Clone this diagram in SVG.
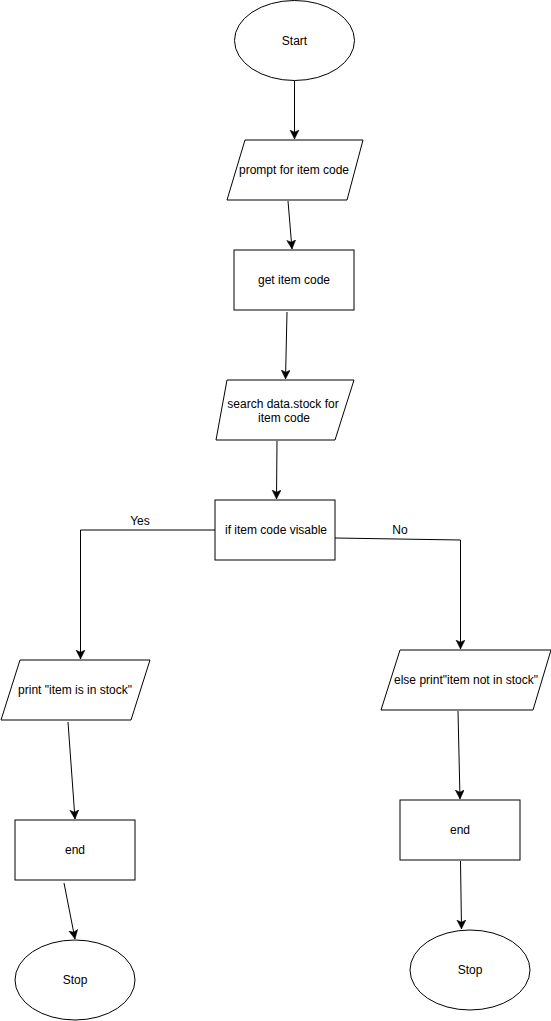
<svg xmlns="http://www.w3.org/2000/svg" width="551" height="1021" viewBox="0 0 551 1021">
<style>
.s{fill:#fff;stroke:#000;stroke-width:1}
.t{font-family:"Liberation Sans",Arial,sans-serif;font-size:12px;fill:#000;text-anchor:middle;dominant-baseline:central}
.c{fill:none;stroke:#000;stroke-width:1}
</style>
<defs>
<marker id="a" markerUnits="userSpaceOnUse" markerWidth="10" markerHeight="10" refX="9" refY="4.5" orient="auto">
<path d="M0,0 L9,4.5 L0,9 L2.2,4.5 Z" fill="#000" stroke="#000" stroke-width="0.5"/>
</marker>
</defs>
<rect width="551" height="1021" fill="#fff"/>
<g id="connectors">
<path class="c" d="M294.5,81 L294.5,139" marker-end="url(#a)"/>
<path class="c" d="M288,201 L292,249" marker-end="url(#a)"/>
<path class="c" d="M287,312 L285.5,379" marker-end="url(#a)"/>
<path class="c" d="M277,441 L276.5,499" marker-end="url(#a)"/>
<path class="c" d="M215,530 L80.5,530 L80.5,659" marker-end="url(#a)"/>
<path class="c" d="M335,538 L460.5,540 L460.5,649" marker-end="url(#a)"/>
<path class="c" d="M68,722 L75,819" marker-end="url(#a)"/>
<path class="c" d="M64,883 L75,939" marker-end="url(#a)"/>
<path class="c" d="M458,711 L460,799" marker-end="url(#a)"/>
<path class="c" d="M460.5,861 L461.5,929" marker-end="url(#a)"/>
<text class="t" x="140" y="521">Yes</text>
<text class="t" x="400" y="530">No</text>
</g>
<g id="start">
<ellipse class="s" cx="294.5" cy="40.5" rx="60" ry="40"/>
<text class="t" x="294.5" y="41">Start</text>
</g>
<g id="prompt">
<polygon class="s" points="245,140 363,140 347,200 227,200"/>
<text class="t" x="294" y="170">prompt for item code</text>
</g>
<g id="get">
<rect class="s" x="234" y="250" width="120" height="60"/>
<text class="t" x="294" y="280">get item code</text>
</g>
<g id="search">
<polygon class="s" points="227,380 354,380 335,440 216,440"/>
<text class="t" x="283" y="404">search data.stock for</text>
<text class="t" x="284" y="418">item code</text>
</g>
<g id="decision">
<rect class="s" x="215" y="500" width="120" height="60"/>
<text class="t" x="276" y="530">if item code visable</text>
</g>
<g id="printYes">
<polygon class="s" points="20,660 150,660 131,720 1,720"/>
<text class="t" x="75" y="690">print "item is in stock"</text>
</g>
<g id="printNo">
<polygon class="s" points="400,650 551,650 533,710 381,710"/>
<text class="t" x="466" y="680">else print"item not in stock"</text>
</g>
<g id="endLeft">
<rect class="s" x="15" y="820" width="120" height="60"/>
<text class="t" x="75" y="850">end</text>
</g>
<g id="endRight">
<rect class="s" x="400" y="800" width="120" height="60"/>
<text class="t" x="460" y="830">end</text>
</g>
<g id="stopLeft">
<ellipse class="s" cx="75" cy="980" rx="60" ry="40"/>
<text class="t" x="75" y="980">Stop</text>
</g>
<g id="stopRight">
<ellipse class="s" cx="470" cy="970" rx="60" ry="40"/>
<text class="t" x="470" y="970">Stop</text>
</g>
</svg>
